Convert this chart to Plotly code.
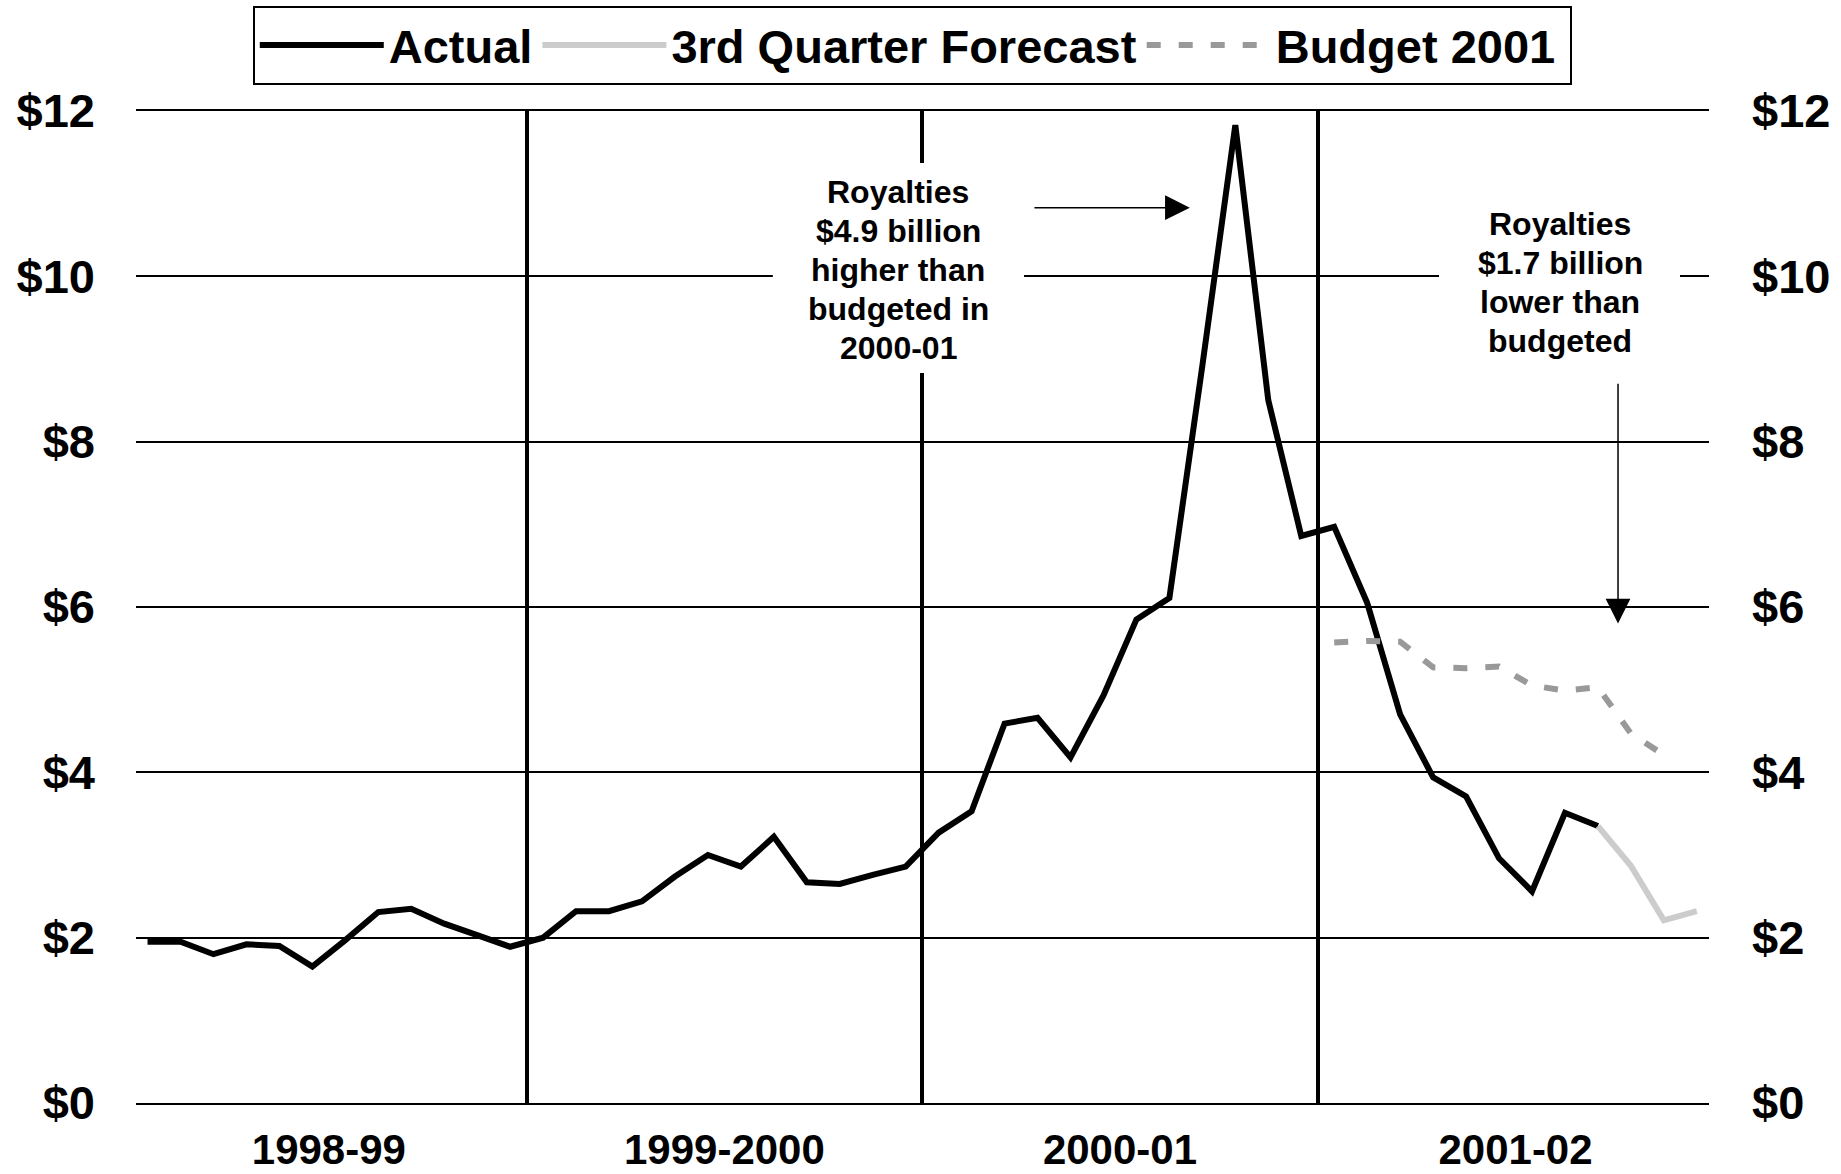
import plotly.graph_objects as go

# Monthly index, fiscal years April-March (Apr 1998 .. Mar 2002)
months = list(range(48))
fiscal_years = ["1998-99", "1999-2000", "2000-01", "2001-02"]

actual = [1.95, 1.95, 1.80, 1.92, 1.90, 1.65, 1.97, 2.31, 2.35, 2.17, 2.03, 1.89,
          2.00, 2.32, 2.32, 2.44, 2.74, 3.00, 2.86, 3.22, 2.67, 2.65, 2.76, 2.86,
          3.27, 3.53, 4.59, 4.66, 4.18, 4.93, 5.85, 6.11, 8.92, 11.83, 8.50, 6.86,
          6.97, 6.05, 4.70, 3.94, 3.71, 2.96, 2.56, 3.51, 3.35]
forecast = [3.35, 2.87, 2.21, 2.32]
budget = [5.57, 5.59, 5.58, 5.27, 5.26, 5.28, 5.05, 4.99, 5.03, 4.47, 4.21]

actual_x = months[:len(actual)]
forecast_x = months[44:44 + len(forecast)]
budget_x = months[36:36 + len(budget)]

y_ticks = [0, 2, 4, 6, 8, 10, 12]
y_labels = ["$0", "$2", "$4", "$6", "$8", "$10", "$12"]
year_ticks = [12 * k + 5.5 for k in range(len(fiscal_years))]
year_bounds = [11.5, 23.5, 35.5]

note1_lines = ["Royalties", "$4.9 billion", "higher than", "budgeted in", "2000-01"]
note2_lines = ["Royalties", "$1.7 billion", "lower than", "budgeted"]

FONT = "Liberation Sans, Arial, sans-serif"

fig = go.Figure()
fig.add_trace(go.Scatter(x=actual_x, y=actual, mode="lines", name="Actual",
                         line=dict(color="#000000", width=6)))
fig.add_trace(go.Scatter(x=forecast_x, y=forecast, mode="lines", name="3rd Quarter Forecast",
                         line=dict(color="#cccccc", width=6)))
fig.add_trace(go.Scatter(x=budget_x, y=budget, mode="lines", name="Budget 2001\u2009",
                         line=dict(color="#999999", width=6, dash="14px,18px")))
# invisible trace to carry the right-hand axis
fig.add_trace(go.Scatter(x=[months[0]], y=[0], yaxis="y2", mode="lines",
                         showlegend=False, hoverinfo="skip", line=dict(width=0)))

fig.update_layout(
    width=1841, height=1174,
    margin=dict(l=136, r=132, t=111, b=71, autoexpand=False),
    paper_bgcolor="white", plot_bgcolor="white",
    font=dict(family=FONT, color="black"),
    showlegend=True,
    legend=dict(orientation="h", x=0.4935, xanchor="center", y=1.1058, yanchor="top",
                bordercolor="black", borderwidth=2, bgcolor="white",
                font=dict(size=47, weight="bold", family=FONT), itemwidth=124),
    xaxis=dict(range=[-0.35, 47.37], tickvals=year_ticks, ticktext=fiscal_years,
               tickfont=dict(size=42, weight="bold", family=FONT),
               showgrid=False, zeroline=False, ticks="", automargin=False,
               showline=True, mirror=True, linecolor="black", linewidth=2,
               ticklabelstandoff=9,
               minor=dict(tickvals=year_bounds, showgrid=True, gridcolor="black", gridwidth=3.5)),
    yaxis=dict(range=[0, 12], tickvals=y_ticks, ticktext=y_labels,
               tickfont=dict(size=47, weight="bold", family=FONT), automargin=False,
               showgrid=True, gridcolor="black", gridwidth=2, zeroline=False,
               showline=False, ticks="", ticklabelstandoff=40),
    yaxis2=dict(range=[0, 12], overlaying="y", side="right", tickvals=y_ticks, ticktext=y_labels,
                tickfont=dict(size=47, weight="bold", family=FONT), automargin=False,
                showgrid=False, zeroline=False, showline=False, ticks="", ticklabelstandoff=42),
)

# white boxes behind the notes (they interrupt the grid)
shapes = [
    dict(type="rect", xref="x", yref="y", x0=18.97, x1=26.59, y0=8.83, y1=11.37,
         fillcolor="white", line=dict(width=0), layer="above"),
    dict(type="rect", xref="x", yref="y", x0=39.18, x1=46.49, y0=8.86, y1=10.98,
         fillcolor="white", line=dict(width=0), layer="above"),
]
fig.update_layout(shapes=shapes)

annotations = []
for i, t in enumerate(note1_lines):
    annotations.append(dict(x=22.78, y=11.02 - 0.472 * i, xref="x", yref="y", showarrow=False,
                            text=t, font=dict(size=32, weight="bold", family=FONT)))
for i, t in enumerate(note2_lines):
    annotations.append(dict(x=42.85, y=10.63 - 0.472 * i, xref="x", yref="y", showarrow=False,
                            text=t, font=dict(size=32, weight="bold", family=FONT)))
annotations += [
    dict(x=31.62, y=10.83, ax=26.86, ay=10.83, xref="x", yref="y", axref="x", ayref="y",
         text="", showarrow=True, arrowhead=2, arrowwidth=1.5, arrowsize=3.3, arrowcolor="black"),
    dict(x=44.61, y=5.80, ax=44.61, ay=8.72, xref="x", yref="y", axref="x", ayref="y",
         text="", showarrow=True, arrowhead=2, arrowwidth=1.5, arrowsize=3.3, arrowcolor="black"),
]
fig.update_layout(annotations=annotations)

fig.write_html("out.html", config={"displayModeBar": False},
               post_script="document.body.style.margin='0px';document.body.style.overflow='hidden';")
